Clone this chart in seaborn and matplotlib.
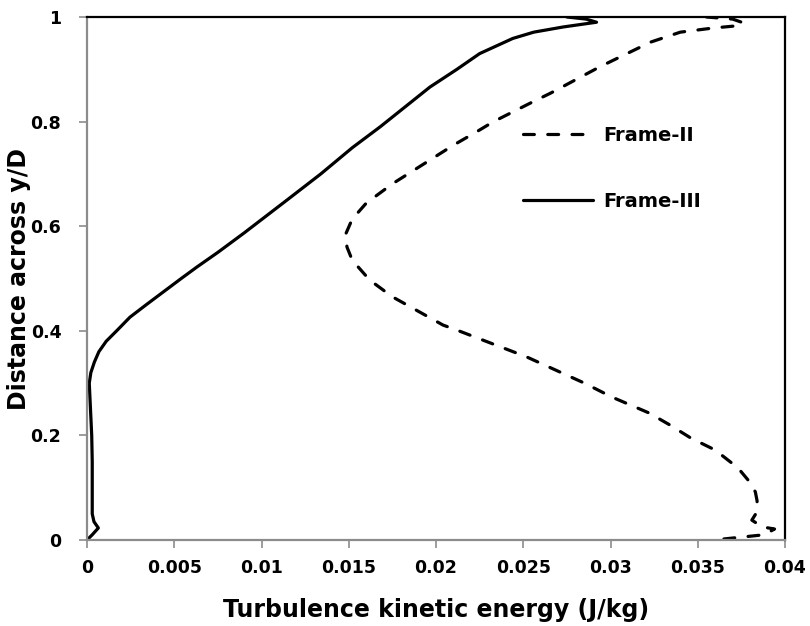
import matplotlib
matplotlib.use("Agg")
import matplotlib.pyplot as plt
import seaborn as sns
import pandas as pd

# ---- data ----
frame2_y = [0.002, 0.010, 0.021, 0.025, 0.038, 0.054, 0.075, 0.092, 0.110, 0.138,
            0.172, 0.195, 0.220, 0.243, 0.273, 0.300, 0.350, 0.400, 0.411, 0.465,
            0.497, 0.535, 0.560, 0.583, 0.606, 0.625, 0.644, 0.681, 0.700, 0.755,
            0.780, 0.800, 0.837, 0.855, 0.905, 0.952, 0.971, 0.979, 0.983, 0.989,
            0.996, 1.000]
frame2_x = [0.0365, 0.0388, 0.0394, 0.0387, 0.0381, 0.0384, 0.0384, 0.0383, 0.0380, 0.0373,
            0.0360, 0.0346, 0.0334, 0.0322, 0.0301, 0.0285, 0.0252, 0.0213, 0.0204, 0.0175,
            0.0162, 0.0152, 0.0149, 0.0148, 0.0151, 0.0155, 0.0160, 0.0175, 0.0184, 0.0210,
            0.0223, 0.0233, 0.0255, 0.0266, 0.0294, 0.0323, 0.0340, 0.0359, 0.0372, 0.0376,
            0.0370, 0.0355]

frame3_y = [0.000, 0.010, 0.023, 0.035, 0.050, 0.100, 0.150, 0.200, 0.250, 0.300,
            0.320, 0.340, 0.360, 0.380, 0.400, 0.426, 0.450, 0.500, 0.522, 0.550,
            0.587, 0.650, 0.700, 0.750, 0.790, 0.830, 0.866, 0.900, 0.930, 0.959,
            0.971, 0.981, 0.990, 0.996, 1.000]
frame3_x = [0.0000, 0.0003, 0.00065, 0.0004, 0.0003, 0.0003, 0.0003, 0.00027, 0.0002, 0.00013,
            0.00022, 0.00042, 0.00068, 0.00110, 0.0017, 0.00246, 0.0034, 0.0054, 0.0063, 0.0075,
            0.0090, 0.01146, 0.0134, 0.0152, 0.0168, 0.0183, 0.01965, 0.0212, 0.0225, 0.0244,
            0.0256, 0.0273, 0.0292, 0.0286, 0.0275]

series_names = ["Frame-II", "Frame-III"]
x_ticks = [0, 0.005, 0.01, 0.015, 0.02, 0.025, 0.03, 0.035, 0.04]
x_tick_labels = ["0", "0.005", "0.01", "0.015", "0.02", "0.025", "0.03", "0.035", "0.04"]
y_ticks = [0, 0.2, 0.4, 0.6, 0.8, 1.0]
y_tick_labels = ["0", "0.2", "0.4", "0.6", "0.8", "1"]
x_label = "Turbulence kinetic energy (J/kg)"
y_label = "Distance across y/D"

df = pd.concat([
    pd.DataFrame({"tke": frame2_x, "y": frame2_y, "series": series_names[0]}),
    pd.DataFrame({"tke": frame3_x, "y": frame3_y, "series": series_names[1]}),
], ignore_index=True)

sns.set_style("white")
plt.rcParams["font.family"] = ["DejaVu Sans"]
plt.rcParams["font.weight"] = "bold"
plt.rcParams["text.color"] = "black"
plt.rcParams["axes.labelcolor"] = "black"
plt.rcParams["xtick.color"] = "black"
plt.rcParams["ytick.color"] = "black"

fig = plt.figure(figsize=(8.10, 6.26), dpi=100)
ax = fig.add_axes([87 / 810, 1 - 540 / 626, (785 - 87) / 810, (540 - 17) / 626])

sns.lineplot(data=df, x="tke", y="y", hue="series", style="series",
             palette={series_names[0]: "black", series_names[1]: "black"},
             dashes={series_names[0]: (3.4, 4.2), series_names[1]: ""},
             sort=False, estimator=None, orient="y", linewidth=2.3, ax=ax)
for ln in ax.lines:
    ln.set_dash_capstyle("round")
    ln.set_solid_capstyle("round")
    ln.set_solid_joinstyle("round")

ax.set_xlim(0, 0.04)
ax.set_ylim(0, 1)
ax.set_xticks(x_ticks, x_tick_labels)
ax.set_yticks(y_ticks, y_tick_labels)

for s in ["left", "bottom"]:
    ax.spines[s].set_color("#8c8c8c")
    ax.spines[s].set_linewidth(1.6)
for s in ["top", "right"]:
    ax.spines[s].set_color("black")
    ax.spines[s].set_linewidth(1.6)

ax.tick_params(axis="both", which="major", direction="out", length=6, width=1.2,
               color="#8c8c8c", labelsize=12.5, labelcolor="black",
               bottom=True, left=True, top=False, right=False)
ax.tick_params(axis="x", pad=8)
ax.tick_params(axis="y", pad=12.5)
for lab in ax.get_xticklabels() + ax.get_yticklabels():
    lab.set_fontweight("bold")

ax.set_xlabel(x_label, fontsize=17, fontweight="bold", labelpad=15, color="black")
ax.set_ylabel(y_label, fontsize=17, fontweight="bold", labelpad=0, color="black")

leg = ax.legend(loc="upper left", bbox_to_anchor=(0.60, 0.825), frameon=False,
                handlelength=3.6, handletextpad=0.5, labelspacing=2.4,
                prop={"weight": "bold", "size": 14})
for line in leg.get_lines():
    line.set_linewidth(2.3)
    line.set_dash_capstyle("round")
for t in leg.get_texts():
    t.set_color("black")

fig.savefig("out.png", dpi=100)
